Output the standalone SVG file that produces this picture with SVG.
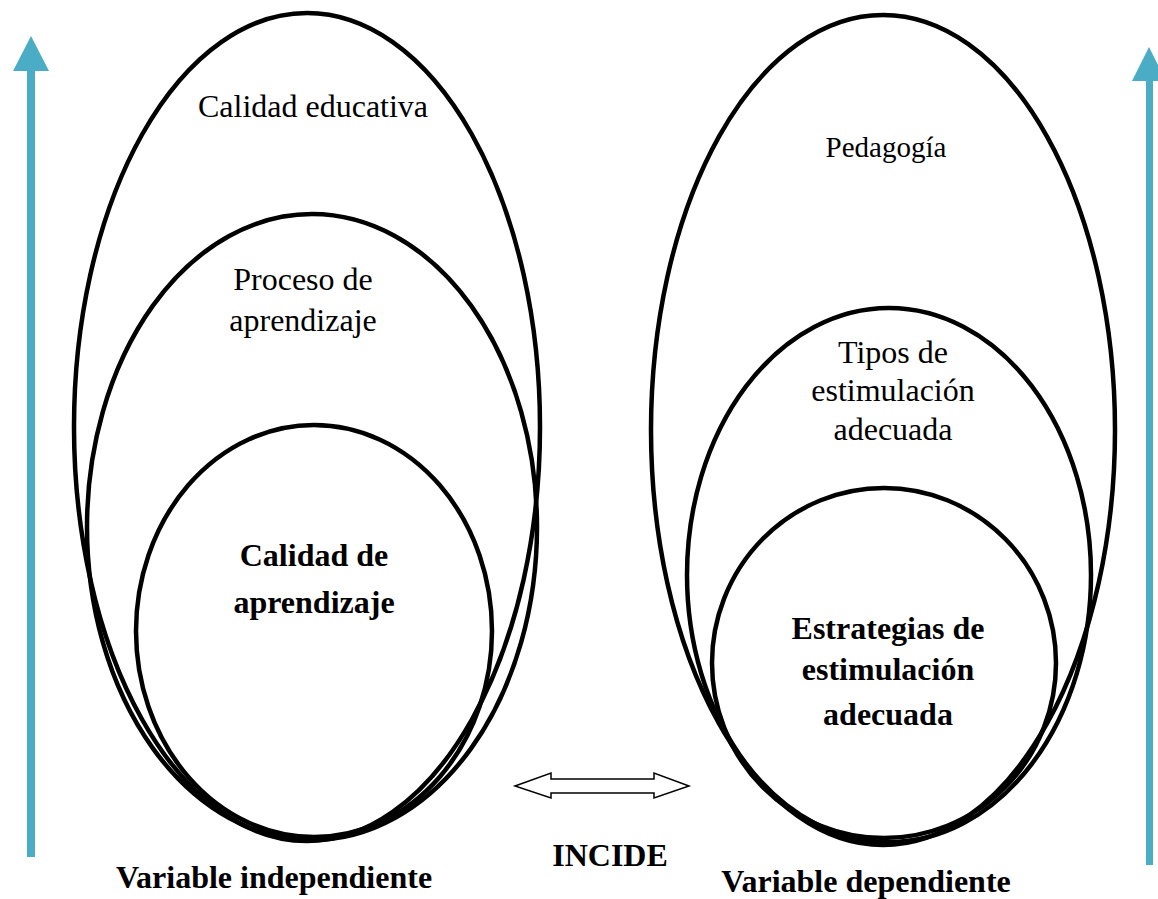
<svg xmlns="http://www.w3.org/2000/svg" width="1158" height="899" viewBox="0 0 1158 899">
<style>
.e{fill:none;stroke:#000;stroke-width:4.5}
.t{font-family:"Liberation Serif","Times New Roman",serif;font-size:32px;text-anchor:middle;fill:#000}
.b{font-weight:bold}
.up{fill:#4bacc6}
</style>
<rect width="1158" height="899" fill="#fff"/>
<g id="left-outer"><ellipse class="e" cx="307" cy="427" rx="233" ry="414"/><text class="t" x="313" y="117">Calidad educativa</text></g>
<g id="left-middle"><ellipse class="e" cx="312" cy="527" rx="225" ry="313"/><text class="t" x="303" y="290">Proceso de</text><text class="t" x="303" y="331">aprendizaje</text></g>
<g id="left-inner"><ellipse class="e" cx="314" cy="631" rx="178" ry="206"/><text class="t b" x="314" y="566">Calidad de</text><text class="t b" x="314" y="613">aprendizaje</text></g>
<g id="right-outer"><ellipse class="e" cx="883" cy="430" rx="232" ry="415"/><text class="t" x="886" y="157" style="font-size:29px">Pedagogía</text></g>
<g id="right-middle"><ellipse class="e" cx="889" cy="575" rx="202" ry="267"/><text class="t" x="893" y="363">Tipos de</text><text class="t" x="893" y="401">estimulación</text><text class="t" x="893" y="440">adecuada</text></g>
<g id="right-inner"><ellipse class="e" cx="884" cy="663" rx="172" ry="175"/><text class="t b" x="888" y="639">Estrategias de</text><text class="t b" x="888" y="680">estimulación</text><text class="t b" x="888" y="725">adecuada</text></g>
<g id="connectors">
<polygon class="up" points="31,36 49,71 35,71 35,857 27,857 27,71 13,71"/>
<polygon class="up" points="1149,47 1166,81 1153,81 1153,865 1146,865 1146,81 1132,81"/>
<polygon points="515,786 551,773 551,779 654,779 654,773 689,786 654,798 654,793 551,793 551,798" fill="#fff" stroke="#000" stroke-width="1.5"/>
</g>
<g id="labels">
<text class="t b" x="274" y="888">Variable independiente</text>
<text class="t b" x="610" y="866">INCIDE</text>
<text class="t b" x="866" y="892">Variable dependiente</text>
</g>
</svg>
